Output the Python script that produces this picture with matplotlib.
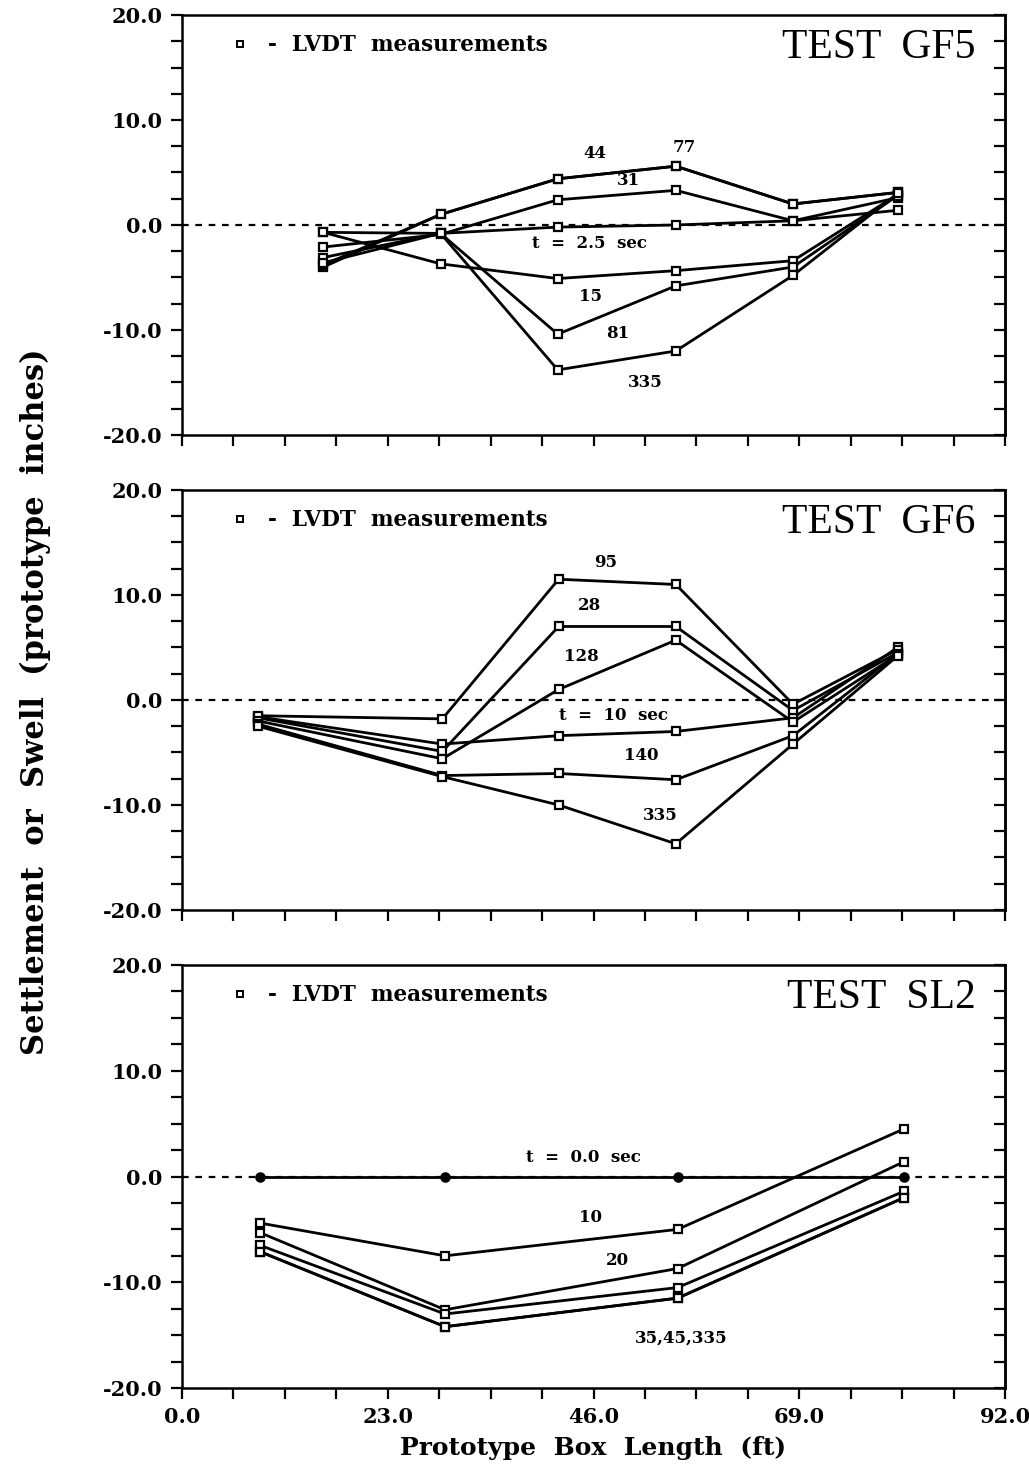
import numpy as np
import matplotlib
matplotlib.use("Agg")
import matplotlib.pyplot as plt
import matplotlib.ticker as ticker
from matplotlib.lines import Line2D

plt.rcParams['font.family'] = ['DejaVu Serif']
plt.rcParams['font.weight'] = 'bold'

# --- TEST GF5 ---
gf5_x = [15.8, 28.9, 42.0, 55.2, 68.3, 80.0]
gf5_t2_5 = [-0.7, -0.8, -0.2, 0.0, 0.4, 1.4]
gf5_t15 = [-0.7, -3.7, -5.1, -4.35, -3.4, 2.9]
gf5_t31 = [-2.1, -0.9, 2.4, 3.3, 0.4, 2.6]
gf5_t44 = [-4.0, 1.0, 4.4, 5.6, 2.0, 3.1]
gf5_t77 = [-3.8, 1.0, 4.4, 5.6, 2.0, 3.1]
gf5_t81 = [-3.1, -0.8, -10.4, -5.8, -4.0, 2.8]
gf5_t335 = [-3.6, -0.8, -13.8, -12.0, -4.8, 3.0]

# --- TEST GF6 ---
gf6_x = [8.5, 29.1, 42.1, 55.2, 68.3, 80.0]
gf6_t10 = [-1.6, -4.2, -3.4, -3.0, -1.7, 5.0]
gf6_t28 = [-1.7, -4.9, 7.0, 7.0, -1.0, 4.5]
gf6_t95 = [-1.5, -1.8, 11.5, 11.0, -0.4, 4.8]
gf6_t128 = [-2.0, -5.6, 1.0, 5.7, -2.1, 4.3]
gf6_t140 = [-2.3, -7.2, -7.0, -7.6, -3.4, 4.4]
gf6_t335 = [-2.5, -7.3, -10.0, -13.7, -4.2, 4.2]

# --- TEST SL2 ---
sl2_x = [8.7, 29.4, 55.4, 80.7]
sl2_t0 = [0.0, 0.0, 0.0, 0.0]
sl2_t10 = [-4.4, -7.5, -5.0, 4.5]
sl2_t20 = [-5.3, -12.6, -8.7, 1.4]
sl2_t35 = [-6.5, -13.0, -10.5, -1.4]
sl2_t45 = [-7.1, -14.2, -11.5, -2.0]
sl2_t335 = [-7.1, -14.2, -11.5, -2.0]

x_ticks = [0.0, 23.0, 46.0, 69.0, 92.0]
y_ticks = [-20.0, -10.0, 0.0, 10.0, 20.0]

panels = [
    dict(title='TEST  GF5', x=gf5_x,
         series=[gf5_t2_5, gf5_t15, gf5_t31, gf5_t44, gf5_t77, gf5_t81, gf5_t335],
         labels=[('44', 46.2, 6.8), ('77', 56.1, 7.4), ('31', 49.9, 4.2),
                 ('t  =  2.5  sec', 45.5, -1.8), ('15', 45.7, -6.8),
                 ('81', 48.7, -10.3), ('335', 51.8, -15.0)]),
    dict(title='TEST  GF6', x=gf6_x,
         series=[gf6_t10, gf6_t28, gf6_t95, gf6_t128, gf6_t140, gf6_t335],
         labels=[('95', 47.3, 13.1), ('28', 45.5, 9.0), ('128', 44.6, 4.1),
                 ('t  =  10  sec', 48.2, -1.5), ('140', 51.3, -5.3),
                 ('335', 53.5, -11.0)]),
    dict(title='TEST  SL2', x=sl2_x,
         series=[sl2_t0, sl2_t10, sl2_t20, sl2_t35, sl2_t45, sl2_t335],
         labels=[('t  =  0.0  sec', 44.9, 1.8), ('10', 45.7, -3.9),
                 ('20', 48.7, -7.9), ('35,45,335', 55.8, -15.3)]),
]

fig = plt.figure(figsize=(10.29, 14.71), dpi=100)
boxes = [(0.1769, 0.7043, 0.7998, 0.2855),
         (0.1769, 0.3814, 0.7998, 0.2855),
         (0.1769, 0.0564, 0.7998, 0.2876)]

for i, (p, box) in enumerate(zip(panels, boxes)):
    ax = fig.add_axes(box)
    ax.axhline(0, color='black', lw=1.6, ls=(0, (3, 3)), zorder=1)
    for k, y in enumerate(p['series']):
        filled = (i == 2 and k == 0)
        ax.plot(p['x'], y, color='black', lw=2.0, marker='o' if filled else 's',
                markersize=6 if filled else 5.5, mfc='black' if filled else 'white',
                mec='black', mew=1.6, zorder=3)
    for txt, tx, ty in p['labels']:
        ax.text(tx, ty, txt, ha='center', va='center', fontsize=12, fontweight='bold')
    ax.text(0.964, 0.922, p['title'], transform=ax.transAxes, ha='right', va='center',
            fontsize=30, fontweight='normal', family='Liberation Serif')
    handle = Line2D([], [], ls='none', marker='s', markersize=5, mfc='white',
                    mec='black', mew=1.4)
    ax.legend([handle], ['-  LVDT  measurements'], loc='upper left', frameon=False,
              bbox_to_anchor=(0.042, 0.985), borderaxespad=0.0,
              handletextpad=0.8, handlelength=1.0, borderpad=0.6,
              prop=dict(size=15.5, weight='bold'))

    ax.set_xlim(0, 92)
    ax.set_ylim(-20, 20)
    ax.xaxis.set_major_locator(ticker.FixedLocator(x_ticks))
    ax.xaxis.set_minor_locator(ticker.MultipleLocator(5.75))
    ax.yaxis.set_major_locator(ticker.FixedLocator(y_ticks))
    ax.yaxis.set_minor_locator(ticker.MultipleLocator(2.5))
    ax.yaxis.set_major_formatter(ticker.FormatStrFormatter('%.1f'))
    ax.xaxis.set_major_formatter(ticker.FormatStrFormatter('%.1f'))
    ax.tick_params(axis='x', which='both', direction='out', length=8, width=1.6,
                   top=False, labelsize=15, pad=6)
    ax.tick_params(axis='y', which='both', direction='out', length=8, width=1.6,
                   right=False, labelsize=15, pad=6)
    if i < 2:
        ax.tick_params(axis='x', labelbottom=False)
    sec = ax.secondary_yaxis('right')
    sec.yaxis.set_major_locator(ticker.MultipleLocator(2.5))
    sec.tick_params(axis='y', which='both', direction='in', length=8, width=1.6,
                    labelright=False)
    for s in list(ax.spines.values()) + [sec.spines['right']]:
        s.set_linewidth(1.8)
    for lab in ax.get_xticklabels() + ax.get_yticklabels():
        lab.set_fontweight('bold')
    if i == 2:
        ax.set_xlabel('Prototype  Box  Length  (ft)', fontsize=18, fontweight='bold',
                      labelpad=6)

fig.text(0.034, 0.523, 'Settlement  or  Swell  (prototype  inches)', rotation=90,
         ha='center', va='center', fontsize=22, fontweight='bold')

fig.savefig('out.png', dpi=100)
